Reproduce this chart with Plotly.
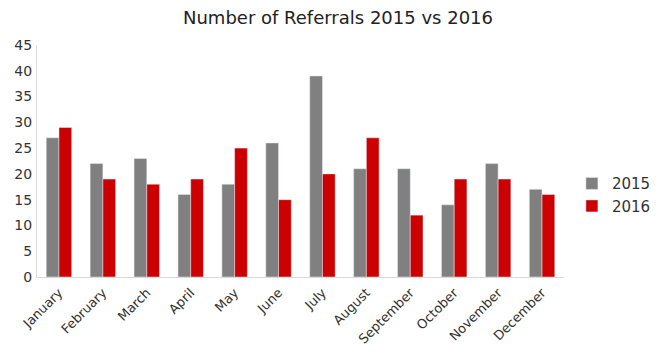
import plotly.graph_objects as go

months = ["January", "February", "March", "April", "May", "June", "July",
          "August", "September", "October", "November", "December"]
y2015 = [27, 22, 23, 16, 18, 26, 39, 21, 21, 14, 22, 17]
y2016 = [29, 19, 18, 19, 25, 15, 20, 27, 12, 19, 19, 16]
yticks = [0, 5, 10, 15, 20, 25, 30, 35, 40, 45]

fig = go.Figure()
fig.add_trace(go.Bar(x=months, y=y2015, name="2015", marker_color="#808080"))
fig.add_trace(go.Bar(x=months, y=y2016, name="2016", marker_color="#cc0000"))

fig.update_layout(
    width=660, height=357,
    margin=dict(l=29, r=86, t=37, b=88),
    paper_bgcolor="white", plot_bgcolor="white",
    barmode="group", bargap=0.42, bargroupgap=0,
    font=dict(family="DejaVu Sans", color="#333333"),
    title=dict(text="Number of Referrals 2015 vs 2016", x=0.5, xanchor="center",
               y=0.972, yanchor="middle", font=dict(size=18, color="#222222")),
    legend=dict(x=1.015, y=0.355, xanchor="left", yanchor="middle",
                font=dict(size=15, color="#333333"), itemwidth=30,
                tracegroupgap=2),
    showlegend=True,
)
fig.update_xaxes(tickangle=-45, tickfont=dict(size=13, color="#333333"),
                 showline=True, linecolor="#d9d9d9", showgrid=False,
                 ticks="", automargin=False, ticklabelstandoff=2)
fig.update_yaxes(range=[0, 45], tickvals=yticks, tickfont=dict(size=14, color="#333333"),
                 showline=True, linecolor="#d9d9d9", showgrid=False, zeroline=False,
                 ticks="", ticklen=0, automargin=False, ticklabelstandoff=1)

fig.write_html("out.html")
